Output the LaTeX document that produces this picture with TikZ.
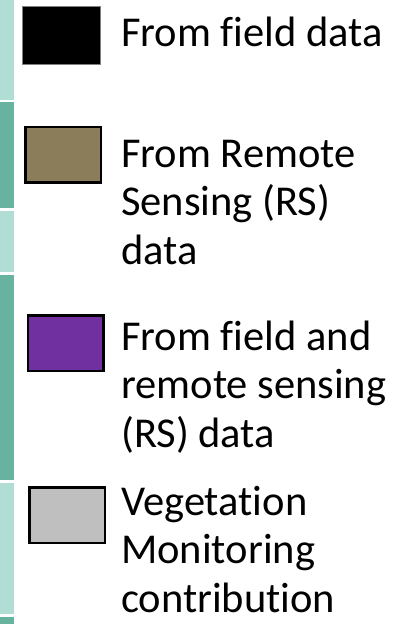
\documentclass[tikz,border=0pt]{standalone}
\usepackage{fontspec}
\setmainfont{Carlito}[Ligatures=CommonOff]
\usetikzlibrary{positioning}
\definecolor{tealLight}{RGB}{176,221,212}
\definecolor{tealDark}{RGB}{104,178,160}
\definecolor{rsOlive}{RGB}{139,124,90}
\definecolor{mixPurple}{RGB}{112,48,160}
\definecolor{vegGray}{RGB}{191,191,191}
\tikzstyle{swatch}=[rectangle, draw=black, line width=2.5pt, minimum width=75.5pt, minimum height=55.5pt, inner sep=0pt]
\tikzstyle{legtext}=[anchor=base west, align=left, inner sep=0pt, text depth=0pt, font=\fontsize{42.5}{48.5}\selectfont]

\begin{document}
\begin{tikzpicture}[x=1pt, y=-1pt]
    \useasboundingbox (0,0) rectangle (408,624);
    % teal strip on the left edge
    \foreach \top/\bot/\col in {0/100/tealLight, 102/208/tealDark, 211/272/tealLight,
                                275/480/tealDark, 483/614/tealLight, 617/624/tealDark}
      \fill[\col] (0,\top) rectangle (14,\bot);

    \node[swatch, fill=black, draw=black!50, line width=0.8pt,
          minimum width=78pt, minimum height=58pt] (field) at (61.5,35.5) {};
    \node[swatch, fill=rsOlive]   (remote) at (63,154.5) {};
    \node[swatch, fill=mixPurple] (both)   at (65.5,343) {};
    \node[swatch, fill=vegGray]   (veg)    at (67,515)   {};

    % legend texts, anchored at the baseline of their last line
    \node[legtext] (fieldtxt)  at (121,46)  {From field data};
    \node[legtext] (remotetxt) at (121,264) {From Remote\\Sensing (RS)\\data};
    \node[legtext] (bothtxt)   at (121,447) {From field and\\remote sensing\\(RS) data};
    \node[legtext] (vegtxt)    at (121,612) {Vegetation\\Monitoring\\contribution};
\end{tikzpicture}
\end{document}
